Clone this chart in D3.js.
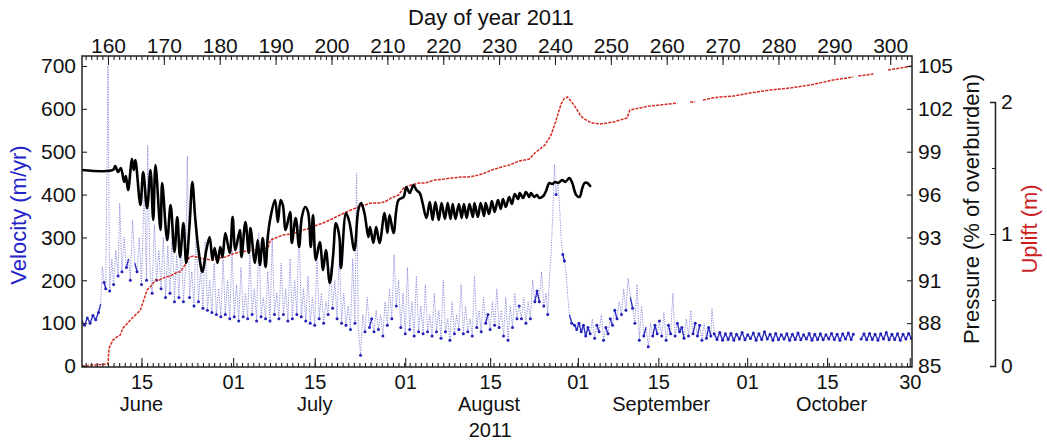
<!DOCTYPE html>
<html><head><meta charset="utf-8">
<script src="https://cdn.jsdelivr.net/npm/d3@7"></script>
<style>
body{margin:0;background:#fff}
svg text{font-family:"Liberation Sans",Arial,Helvetica,sans-serif}
</style>
</head><body>
<svg id="chart" width="1047" height="445"></svg>
<script>
// ---------------- DATA ----------------
const velocityTicks = [0,100,200,300,400,500,600,700];
const pressureTickValues = [85,87.857,90.714,93.571,96.429,99.286,102.143,105];
const pressureTickLabels = ["85","88","91","93","96","99","102","105"];
const upliftMajorTicks = [0,1,2];
const upliftMinorTicks = [0.5,1.5];
const dayOfYearTicks = [160,170,180,190,200,210,220,230,240,250,260,270,280,290,300];
const dateTickDays = [166,182.4,197,213.2,228.4,244.1,258.5,274.4,288.7,303.5];
const dateTickLabels = ["15","01","15","01","15","01","15","01","15","30"];
const monthNames = ["June","July","August","September","October"];
const monthLabelDays = [166,197,228.2,259,289.5];
const yearLabel = "2011";
const yearLabelDay = 228.4;

// Velocity (m/yr) : [day of year, value]
const velocity = [[155.3,105],[155.8,95],[156.3,112],[156.8,100],[157.3,118],[157.8,108],[158.3,125],[158.7,145],[159.0,232],[159.3,195],[159.6,180],[160.0,700],[160.3,175],[160.7,250],[161.0,190],[161.4,270],[161.8,210],[162.1,380],[162.5,220],[162.9,300],[163.3,230],[163.7,250],[164.0,200],[164.4,340],[164.8,240],[165.2,220],[165.6,300],[166.0,190],[166.5,420],[166.9,200],[167.1,515],[167.5,230],[167.9,170],[168.3,330],[168.7,200],[169.1,270],[169.5,180],[169.9,300],[170.3,160],[170.7,280],[171.1,170],[171.5,320],[171.9,150],[172.3,260],[172.7,160],[173.1,290],[173.5,150],[173.9,230],[174.2,490],[174.6,160],[175.0,220],[175.4,140],[175.8,330],[176.2,150],[176.6,230],[177.0,135],[177.4,290],[177.8,130],[178.2,200],[178.6,125],[179.0,240],[179.4,120],[179.8,180],[180.2,115],[180.6,250],[181.0,120],[181.4,200],[181.8,110],[182.2,270],[182.6,115],[183.0,190],[183.4,105],[183.8,230],[184.2,115],[184.6,170],[185.0,110],[185.4,260],[185.8,120],[186.2,180],[186.6,105],[187.0,310],[187.4,115],[187.8,160],[188.2,110],[188.6,220],[189.0,105],[189.4,300],[189.8,120],[190.2,170],[190.6,110],[191.0,240],[191.4,120],[191.8,180],[192.2,105],[192.6,250],[193.0,110],[193.4,200],[193.8,120],[194.2,330],[194.6,115],[195.0,180],[195.4,105],[195.8,210],[196.2,100],[196.6,160],[197.0,95],[197.4,260],[197.8,110],[198.2,170],[198.6,100],[199.0,150],[199.4,120],[199.8,230],[200.2,135],[200.6,200],[201.0,110],[201.4,270],[201.8,100],[202.2,170],[202.6,95],[203.0,140],[203.4,85],[203.8,250],[204.2,100],[204.5,450],[204.8,90],[205.2,25],[205.6,120],[206.0,80],[206.4,160],[206.8,90],[207.2,110],[207.6,80],[208.0,130],[208.4,85],[208.8,120],[209.2,70],[209.6,150],[210.0,95],[210.4,180],[210.8,110],[211.2,260],[211.6,140],[212.0,200],[212.4,90],[212.8,170],[213.2,75],[213.6,230],[214.0,85],[214.4,150],[214.8,70],[215.2,210],[215.6,80],[216.0,140],[216.4,75],[216.8,190],[217.2,80],[217.6,120],[218.0,70],[218.4,170],[218.8,80],[219.2,130],[219.6,65],[220.0,200],[220.4,80],[220.8,110],[221.2,60],[221.6,150],[222.0,75],[222.4,120],[222.8,85],[223.2,190],[223.6,75],[224.0,140],[224.4,80],[224.8,110],[225.2,70],[225.6,210],[226.0,90],[226.4,130],[226.8,80],[227.2,160],[227.6,100],[228.0,120],[228.4,85],[228.8,150],[229.2,95],[229.6,180],[230.0,90],[230.4,130],[230.8,70],[231.2,160],[231.6,60],[232.0,140],[232.4,90],[232.8,170],[233.2,110],[233.6,140],[234.0,110],[234.4,160],[234.8,100],[235.2,150],[235.6,110],[236.0,200],[236.4,150],[236.8,175],[237.2,150],[237.6,220],[238.0,140],[238.4,170],[238.7,120],[239.0,200],[239.3,260],[239.6,350],[239.9,470],[240.2,400],[240.5,430],[240.8,380],[241.1,300],[241.4,260],[241.7,245],[242.0,215],[242.3,160],[242.6,120],[243.0,100],[243.5,95],[243.9,85],[244.3,100],[244.7,80],[245.1,95],[245.5,70],[245.9,90],[246.3,75],[246.7,110],[247.1,65],[247.5,95],[247.9,80],[248.3,120],[248.7,60],[249.1,90],[249.5,75],[249.9,110],[250.3,95],[250.7,130],[251.1,110],[251.5,150],[251.9,120],[252.3,180],[252.7,130],[253.1,205],[253.5,160],[253.9,135],[254.3,100],[254.7,190],[255.1,60],[255.5,140],[255.9,70],[256.3,90],[256.7,45],[257.1,100],[257.5,70],[257.9,95],[258.3,75],[258.7,105],[259.1,70],[259.5,125],[259.9,60],[260.3,95],[260.7,75],[261.1,170],[261.5,70],[261.9,100],[262.3,80],[262.7,90],[263.1,65],[263.5,110],[263.9,70],[264.3,130],[264.7,75],[265.1,100],[265.5,70],[265.9,95],[266.3,60],[266.7,100],[267.1,65],[267.5,90],[267.9,70],[268.1,135],[268.5,75],[269.0,62],[269.5,78],[270.0,60],[270.5,75],[271.0,62],[271.5,76],[272.0,60],[272.5,74],[273.0,63],[273.5,78],[274.0,61],[274.5,73],[275.0,64],[275.5,77],[276.0,60],[276.5,75],[277.0,62],[277.5,80],[278.0,63],[278.5,74],[279.0,60],[279.5,76],[280.0,61],[280.5,73],[281.0,63],[281.5,75],[282.0,60],[282.5,74],[283.0,62],[283.5,77],[284.0,61],[284.5,73],[285.0,63],[285.5,76],[286.0,60],[286.5,74],[287.0,62],[287.5,75],[288.0,61],[288.5,73],[289.0,63],[289.5,76],[290.0,62],[290.5,74],[291.0,60],[291.5,75],[292.0,63],[292.5,77],[293.0,62],[293.4,74],[293.8,null],[294.8,63],[295.3,75],[295.8,61],[296.3,76],[296.8,62],[297.3,74],[297.8,60],[298.3,75],[298.8,63],[299.3,78],[299.8,61],[300.3,74],[300.8,62],[301.3,75],[301.8,60],[302.3,74],[302.8,63],[303.3,76],[303.8,64]];

// Pressure (% of overburden) : [day of year, value]
const pressure = [[155.3,98.07],[160.9,98.07],[161.3,98.33],[161.8,97.93],[162.3,98.2],[162.9,97.27],[163.2,97.67],[163.6,96.73],[164.3,98.8],[164.6,98.07],[164.9,98.73],[165.8,95.73],[166.3,97.93],[167.0,95.53],[167.6,98.07],[168.1,94.73],[168.5,98.4],[169.4,94.07],[169.7,97.2],[170.6,93.4],[171.2,95.73],[171.9,92.6],[172.4,94.93],[172.9,92.27],[173.5,94.53],[174.0,91.87],[174.6,94.4],[175.1,97.27],[175.6,94.93],[176.2,92.73],[176.9,91.27],[177.6,92.73],[178.2,93.6],[178.7,92.07],[179.1,92.87],[179.6,91.87],[180.1,92.93],[180.5,92.27],[181.0,93.87],[181.8,92.53],[182.3,94.93],[182.8,92.73],[183.6,94.07],[183.9,92.27],[184.6,94.6],[185.2,92.53],[185.5,94.2],[186.3,91.87],[186.8,93.4],[187.2,91.73],[187.7,93.53],[188.2,91.6],[188.6,93.6],[189.1,94.93],[189.9,96.07],[190.4,94.6],[190.9,96.07],[191.3,95.73],[191.8,94.07],[192.6,95.27],[192.9,93.2],[193.6,94.87],[194.2,92.93],[194.7,94.93],[195.3,95.6],[195.8,95.27],[196.3,92.93],[196.7,95.07],[197.2,92.07],[197.9,93.27],[198.5,91.4],[199.0,92.73],[199.7,90.53],[200.3,92.4],[200.8,94.53],[201.4,93.67],[201.7,91.53],[202.6,95.2],[203.2,94.6],[204.1,92.73],[204.8,95.4],[205.3,95.87],[205.9,95.2],[206.6,93.6],[206.9,94.27],[207.5,93.2],[208.0,94.27],[208.6,93.2],[209.5,95.2],[210.0,93.87],[210.4,95.07],[211.1,93.87],[212.0,96.07],[212.9,96.27],[213.4,96.93],[214.0,96.53],[214.7,97.07],[215.2,96.73],[215.8,96.53],[216.3,95.87],[217.0,94.87],[217.6,95.93],[218.1,94.73],[218.6,95.93],[219.2,94.73],[219.7,95.87],[220.3,94.8],[220.8,95.87],[221.3,94.8],[221.7,95.8],[222.2,94.8],[222.8,95.8],[223.3,94.87],[223.7,95.8],[224.2,94.87],[224.7,95.8],[225.3,94.93],[225.6,95.87],[226.2,94.93],[226.7,95.87],[227.3,95.0],[227.6,95.87],[228.2,95.13],[228.7,96.0],[229.2,95.27],[229.8,96.07],[230.3,95.47],[230.7,96.13],[231.2,95.6],[231.8,96.27],[232.3,95.8],[232.8,96.47],[233.4,96.13],[233.7,96.53],[234.3,96.2],[234.8,96.6],[235.4,96.27],[235.7,96.53],[236.3,96.27],[236.8,96.4],[237.2,96.2],[237.9,96.33],[238.4,96.67],[239.0,97.2],[239.5,97.13],[240.0,97.27],[240.6,97.2],[241.3,97.4],[241.8,97.27],[242.6,97.53],[243.1,97.2],[243.8,96.4],[244.4,96.27],[244.9,96.87],[245.3,97.2],[245.8,97.2],[246.3,97.0]];

// Uplift (m) : [day of year, value]; null = gap
const uplift = [[155.3,0],[157.7,0.008],[160.0,0.015],[160.2,0.136],[160.9,0.197],[161.6,0.22],[162.2,0.235],[162.7,0.288],[164.0,0.348],[164.9,0.386],[165.8,0.424],[167.0,0.576],[167.9,0.614],[168.5,0.652],[169.2,0.652],[170.3,0.674],[171.2,0.682],[172.4,0.712],[172.9,0.712],[173.8,0.765],[174.6,0.826],[175.3,0.833],[176.4,0.818],[177.4,0.81],[178.7,0.803],[179.8,0.818],[181.0,0.826],[182.3,0.848],[183.6,0.864],[185.0,0.871],[186.4,0.879],[187.7,0.886],[188.6,0.894],[189.1,0.955],[190.0,0.97],[191.3,0.992],[192.7,1.0],[193.6,1.008],[194.9,1.03],[196.2,1.045],[197.4,1.068],[198.5,1.083],[199.7,1.106],[200.8,1.129],[202.3,1.159],[203.5,1.182],[204.8,1.205],[206.0,1.22],[207.1,1.235],[208.4,1.235],[209.5,1.242],[210.7,1.273],[212.0,1.295],[212.9,1.348],[214.3,1.371],[215.6,1.386],[216.7,1.386],[218.5,1.409],[220.3,1.417],[221.5,1.424],[223.3,1.432],[224.6,1.432],[226.4,1.447],[227.4,1.462],[228.7,1.485],[230.5,1.508],[231.9,1.523],[233.6,1.553],[235.4,1.568],[236.4,1.614],[238.2,1.674],[239.3,1.75],[240.1,1.848],[240.6,1.917],[241.1,1.985],[241.6,2.023],[242.2,2.038],[242.7,2.015],[243.4,1.977],[244.0,1.939],[244.5,1.902],[245.0,1.879],[245.9,1.856],[246.6,1.841],[248.1,1.833],[249.3,1.841],[250.4,1.848],[251.7,1.864],[252.9,1.879],[253.4,1.939],[255.2,1.955],[257.0,1.97],[258.8,1.977],[260.3,1.985],[261.9,1.992],[263.0,null],[264.2,2.0],[265.1,2.0],[265.8,null],[266.5,2.015],[268.1,2.03],[269.6,2.038],[271.9,2.045],[274.9,2.068],[278.5,2.091],[282.1,2.106],[285.7,2.129],[289.8,2.167],[293.4,2.189],[293.8,null],[294.3,2.197],[297.0,2.212],[298.2,null],[299.6,2.242],[303.9,2.273]];

// ---------------- LAYOUT ----------------
const L = 82, R = 912, T = 56, B = 367;
const svg = d3.select("#chart");

const x = d3.scaleLinear().domain([155.35, 303.9]).range([L, R]);
const yV = d3.scaleLinear().domain([0, 700]).range([366, 66]);
const yP = d3.scaleLinear().domain([85, 105]).range([366, 66]);
const yU = d3.scaleLinear().domain([0, 2]).range([366, 102]);

svg.append("defs").append("clipPath").attr("id","clip")
  .append("rect").attr("x",L).attr("y",T).attr("width",R-L).attr("height",B-T);

const plot = svg.append("g").attr("clip-path","url(#clip)");

// Velocity: light dotted line + dark points
const vLine = d3.line().defined(d=>d[1]!=null).x(d=>x(d[0])).y(d=>yV(d[1]));
plot.append("path").datum(velocity).attr("d",vLine)
  .attr("fill","none").attr("stroke","#8c8cdc").attr("stroke-width",1)
  .attr("stroke-dasharray","1.2,1.3");

const dark = velocity.filter((d,i)=>{
  if(d[1]==null) return false;
  const p = velocity[i-1] && velocity[i-1][1]!=null ? velocity[i-1][1] : d[1];
  const n = velocity[i+1] && velocity[i+1][1]!=null ? velocity[i+1][1] : d[1];
  return d[1] <= Math.min(p,n)+15 || (Math.abs(d[1]-p)<40 && Math.abs(d[1]-n)<40);
});
const segs=[];
for(let i=1;i<velocity.length;i++){
  const a=velocity[i-1], b=velocity[i];
  if(a[1]!=null && b[1]!=null && Math.abs(a[1]-b[1])<30) segs.push([a,b]);
}
plot.append("g").selectAll("path").data(segs).join("path")
  .attr("d",d=>vLine(d)).attr("fill","none").attr("stroke","#2a2ac0").attr("stroke-width",1.3);
plot.append("g").selectAll("circle").data(dark).join("circle")
  .attr("cx",d=>x(d[0])).attr("cy",d=>yV(d[1])).attr("r",1.5).attr("fill","#2222b8");

// Uplift: red dotted
const uLine = d3.line().defined(d=>d[1]!=null).x(d=>x(d[0])).y(d=>yU(d[1]));
plot.append("path").datum(uplift).attr("d",uLine)
  .attr("fill","none").attr("stroke","#d42a22").attr("stroke-width",1.5)
  .attr("stroke-dasharray","3,1.2");

// Pressure: black thick line
const pLine = d3.line().curve(d3.curveCatmullRom.alpha(0.5)).x(d=>x(d[0])).y(d=>yP(d[1]));
plot.append("path").datum(pressure).attr("d",pLine)
  .attr("fill","none").attr("stroke","#000").attr("stroke-width",2.6)
  .attr("stroke-linejoin","round").attr("stroke-linecap","round");

// ---------------- AXES ----------------
const FS = 21, BFS = 20, TFS = 22;
function styleAxis(g, fs){
  g.selectAll(".domain").remove();
  g.selectAll(".tick line").attr("stroke","#222").attr("stroke-width",1.1);
  g.selectAll("text").attr("font-size",fs||FS).attr("fill","#111")
    .attr("font-family","Liberation Sans, Arial, sans-serif");
}
svg.append("rect").attr("x",L).attr("y",T).attr("width",R-L).attr("height",B-T)
  .attr("fill","none").attr("stroke","#222").attr("stroke-width",1.5);

svg.append("g").attr("transform",`translate(${L},0)`)
  .call(d3.axisLeft(yV).tickValues(velocityTicks).tickSize(-5).tickPadding(6))
  .call(g=>styleAxis(g));

svg.append("g").attr("transform",`translate(${R},0)`)
  .call(d3.axisRight(yP).tickValues(pressureTickValues).tickSize(-5).tickPadding(6)
    .tickFormat((d,i)=>pressureTickLabels[i]))
  .call(g=>styleAxis(g));

const dailyDays = d3.range(156, 304);
svg.append("g").attr("transform",`translate(0,${T})`)
  .call(d3.axisTop(x).tickValues(dailyDays).tickSize(-4).tickFormat(""))
  .call(g=>styleAxis(g));
svg.append("g").attr("transform",`translate(0,${T})`)
  .call(d3.axisTop(x).tickValues(dayOfYearTicks).tickSize(-9).tickPadding(3).tickFormat(d3.format("d")))
  .call(g=>styleAxis(g));

svg.append("g").attr("transform",`translate(0,${B})`)
  .call(d3.axisBottom(x).tickValues(dailyDays).tickSize(-4).tickFormat(""))
  .call(g=>styleAxis(g));
const bx = svg.append("g").attr("transform",`translate(0,${B})`)
  .call(d3.axisBottom(x).tickValues(dateTickDays).tickSize(-9).tickPadding(8)
    .tickFormat((d,i)=>dateTickLabels[i]))
  .call(g=>styleAxis(g, BFS));
bx.selectAll(".tick text").attr("dy",null).attr("y",22);

svg.append("g").selectAll("text").data(monthNames).join("text")
  .attr("x",(d,i)=>x(monthLabelDays[i])).attr("y",411)
  .attr("text-anchor","middle").attr("font-size",BFS).attr("fill","#111").text(d=>d);
svg.append("text").attr("x",x(yearLabelDay)).attr("y",437)
  .attr("text-anchor","middle").attr("font-size",BFS).attr("fill","#111").text(yearLabel);

svg.append("text").attr("x",491).attr("y",25).attr("text-anchor","middle")
  .attr("font-size",TFS).attr("fill","#111").text("Day of year 2011");

const UX = 995;
const ug = svg.append("g").attr("transform",`translate(${UX},0)`);
ug.call(d3.axisRight(yU).tickValues(upliftMajorTicks).tickSizeInner(-5).tickSizeOuter(-5).tickPadding(6).tickFormat(d3.format("d")));
ug.select(".domain").attr("stroke","#222").attr("stroke-width",1.5);
ug.selectAll(".tick line").attr("stroke","#222");
ug.selectAll("text").attr("font-size",FS).attr("fill","#111");
svg.append("g").attr("transform",`translate(${UX},0)`)
  .call(d3.axisRight(yU).tickValues(upliftMinorTicks).tickSize(-3).tickFormat(""))
  .call(g=>g.select(".domain").remove())
  .call(g=>g.selectAll(".tick line").attr("stroke","#222"));

svg.append("text").attr("transform","translate(26,215) rotate(-90)")
  .attr("text-anchor","middle").attr("font-size",TFS).attr("fill","#2323c8").text("Velocity (m/yr)");
svg.append("text").attr("transform","translate(979,209) rotate(-90)")
  .attr("text-anchor","middle").attr("font-size",TFS).attr("fill","#111").text("Pressure (% of overburden)");
svg.append("text").attr("transform","translate(1037,229) rotate(-90)")
  .attr("text-anchor","middle").attr("font-size",TFS).attr("fill","#cc1f1f").text("Uplift (m)");
</script>
</body></html>
